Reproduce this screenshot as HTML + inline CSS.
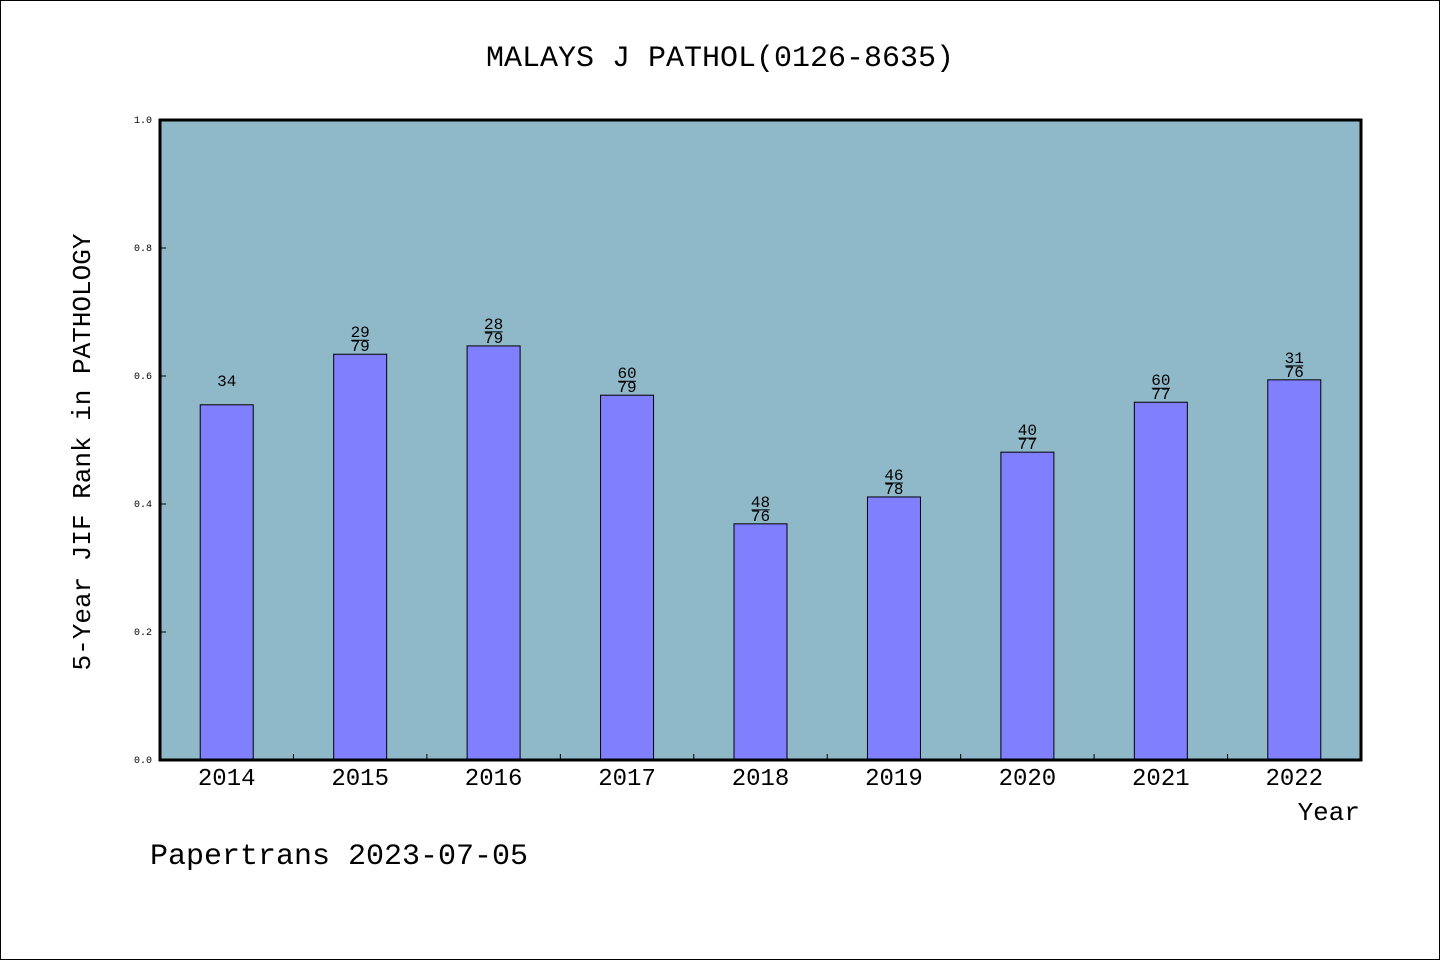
<!DOCTYPE html>
<html><head><meta charset="utf-8"><style>
body{margin:0;background:#fff}
svg text{font-family:"WenQuanYi Zen Hei","Liberation Mono",monospace;fill:#000}
</style></head><body>
<svg width="1440" height="960">
<rect x="0.5" y="0.5" width="1439" height="959" fill="#fff" stroke="#000"/>
<text x="720" y="66" font-size="30" text-anchor="middle">MALAYS J PATHOL(0126-8635)</text>
<rect x="160" y="120" width="1201" height="640" fill="#8fb8c8"/>
<g id="bars"></g>
<rect x="160" y="120" width="1201" height="640" fill="none" stroke="#000" stroke-width="3"/>
<g id="axes"></g>
<text transform="translate(90,452) rotate(-90)" font-size="26" text-anchor="middle">5-Year JIF Rank in PATHOLOGY</text>
<text x="1360" y="820" font-size="26" text-anchor="end">Year</text>
<text x="150" y="864" font-size="30">Papertrans 2023-07-05</text>
</svg>
<script>
const years=["2014","2015","2016","2017","2018","2019","2020","2021","2022"];
const values=[0.555,0.634,0.647,0.570,0.369,0.411,0.481,0.559,0.594];
const ranks=["34","29","28","60","48","46","40","60","31"];
const totals=["","79","79","79","76","78","77","77","76"];
const yTicks=["0.0","0.2","0.4","0.6","0.8","1.0"];
const NS="http://www.w3.org/2000/svg";
const x0=160,x1=1361,y0=760,y1=120;
const bw=(x1-x0)/years.length;
const xs=i=>x0+bw*(i+0.5);
const ys=v=>y0-(y0-y1)*v;
function mk(t,a,p){const e=document.createElementNS(NS,t);for(const k in a)e.setAttribute(k,a[k]);p.appendChild(e);return e;}
const bars=document.getElementById('bars'),axes=document.getElementById('axes');
years.forEach((y,i)=>{
 const cx=xs(i),top=ys(values[i]);
 const r=mk('rect',{x:cx-26.5,y:top,width:53,height:y0-top,fill:'#8080ff',stroke:'#000','stroke-width':1},bars);
 
 
 if(totals[i]){
  const a=mk('text',{x:cx,y:top-17,'font-size':16,'text-anchor':'middle'},bars);a.textContent=ranks[i];
  
  
  const l=mk('line',{x1:cx-9,x2:cx+9,y1:top-14,y2:top-14,stroke:'#000','stroke-width':1},bars);
  
  
  const b=mk('text',{x:cx,y:top-3,'font-size':16,'text-anchor':'middle'},bars);b.textContent=totals[i];
  
  
 } else {
  const a=mk('text',{x:cx,y:top-19,'font-size':16,'text-anchor':'middle'},bars);a.textContent=ranks[i];
  
  
 }
 const t=mk('text',{x:cx,y:785,'font-size':24,'text-anchor':'middle'},axes);t.textContent=y;
 
 
 if(i>0){const tk=mk('line',{x1:x0+bw*i,x2:x0+bw*i,y1:y0,y2:y0-6,stroke:'#000'},axes);
 
 }
});
yTicks.forEach(v=>{
 const yy=ys(parseFloat(v));
 const tk=mk('line',{x1:x0,x2:x0+6,y1:yy,y2:yy,stroke:'#000'},axes);
 
 
 const t=mk('text',{x:152,y:yy+3,'font-size':10,'text-anchor':'end'},axes);t.textContent=v;
 
 
});
</script>
</body></html>
